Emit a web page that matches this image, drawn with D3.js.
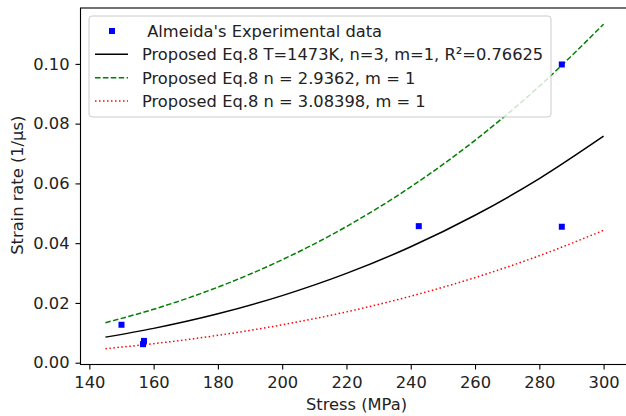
<!DOCTYPE html>
<html>
<head>
<meta charset="utf-8">
<script src="https://cdn.jsdelivr.net/npm/d3@7"></script>
<style>
  body { margin: 0; background: #fff; }
  svg { display: block; font-family: "DejaVu Sans", sans-serif; }
</style>
</head>
<body>
<div id="chart"></div>
<script>
// experimental points
const expStress = [150, 156.7, 157, 242.5, 287, 287];
const expRate = [0.0127, 0.0062, 0.0073, 0.0457, 0.0998, 0.0455];

// fitted curves
const fitStress = [145, 160, 180, 200, 220, 240, 260, 280, 300];
const fitT1473 = [0.00856, 0.01149, 0.01636, 0.02245, 0.02988, 0.0388, 0.04934, 0.0616, 0.0758];
const fitN29362 = [0.0134, 0.01789, 0.02528, 0.03445, 0.04557, 0.05884, 0.07443, 0.09251, 0.1133];
const fitN308398 = [0.0047, 0.00637, 0.00916, 0.01268, 0.01701, 0.02226, 0.02848, 0.0358, 0.0443];

const xTicks = [140, 160, 180, 200, 220, 240, 260, 280, 300];
const yTicks = [0, 0.02, 0.04, 0.06, 0.08, 0.10];

const legendLabels = [
  " Almeida's Experimental data",
  "Proposed Eq.8 T=1473K, n=3, m=1, R\u00b2=0.76625",
  "Proposed Eq.8 n = 2.9362, m = 1",
  "Proposed Eq.8 n = 3.08398, m = 1"
];

const width = 626, height = 416;
const fs = "16.3px";

const svg = d3.select("#chart").append("svg")
  .attr("width", width)
  .attr("height", height);

const x = d3.scaleLinear().domain([137.25, 307.75]).range([80.5, 628.5]);
const y = d3.scaleLinear().domain([-0.0006, 0.1187]).range([364.5, 8]);

// axes
const xAxis = svg.append("g")
  .attr("transform", `translate(0,${y.range()[0]})`)
  .call(d3.axisBottom(x).tickValues(xTicks).tickSize(5).tickPadding(6.5).tickFormat(d3.format("d")));
const yAxis = svg.append("g")
  .attr("transform", `translate(${x.range()[0]},0)`)
  .call(d3.axisLeft(y).tickValues(yTicks).tickSize(5).tickPadding(6).tickFormat(d3.format(".2f")));
[xAxis, yAxis].forEach(g => {
  g.select(".domain").remove();
  g.selectAll("line").attr("stroke", "#000").attr("stroke-width", 1.1);
  g.selectAll("text").attr("font-size", fs).attr("font-family", "DejaVu Sans").attr("fill", "#222");
});

// curves
const line = d3.line().x(d => x(d[0])).y(d => y(d[1])).curve(d3.curveMonotoneX);
const series = [
  { vals: fitN29362, color: "#008000", dash: "5.5,2.4" },
  { vals: fitN308398, color: "#ff0000", dash: "1.5,2.5" },
  { vals: fitT1473, color: "#000000", dash: null }
];
series.forEach(s => {
  svg.append("path")
    .datum(fitStress.map((v, i) => [v, s.vals[i]]))
    .attr("d", line)
    .attr("fill", "none")
    .attr("stroke", s.color)
    .attr("stroke-width", 1.5)
    .attr("stroke-dasharray", s.dash);
});

// experimental squares
const ms = 6;
svg.append("g").selectAll("rect")
  .data(expStress.map((v, i) => [v, expRate[i]]))
  .join("rect")
    .attr("x", d => x(d[0]) - ms / 2)
    .attr("y", d => y(d[1]) - ms / 2)
    .attr("width", ms)
    .attr("height", ms)
    .attr("fill", "#0000ff");

// frame (right edge falls outside the image)
svg.append("rect")
  .attr("x", x.range()[0]).attr("y", y.range()[1])
  .attr("width", x.range()[1] - x.range()[0])
  .attr("height", y.range()[0] - y.range()[1])
  .attr("fill", "none").attr("stroke", "#000").attr("stroke-width", 1.1);

// axis labels
svg.append("text")
  .attr("x", (x.range()[0] + x.range()[1]) / 2 + 2)
  .attr("y", 409.5)
  .attr("text-anchor", "middle")
  .attr("font-size", fs).attr("fill", "#222")
  .text("Stress (MPa)");
svg.append("text")
  .attr("transform", `translate(23,${(y.range()[0] + y.range()[1]) / 2 - 1}) rotate(-90)`)
  .attr("text-anchor", "middle")
  .attr("font-size", fs).attr("fill", "#222")
  .text("Strain rate (1/\u03bcs)");

// legend
const lg = svg.append("g");
lg.append("rect")
  .attr("x", 89).attr("y", 16).attr("width", 462).attr("height", 101).attr("rx", 3)
  .attr("fill", "#fff").attr("fill-opacity", 0.8)
  .attr("stroke", "#ccc").attr("stroke-width", 1);
const rowY = [31, 54.3, 77.7, 101];
lg.append("rect")
  .attr("x", 112 - ms / 2).attr("y", rowY[0] - ms / 2)
  .attr("width", ms).attr("height", ms).attr("fill", "#0000ff");
[series[2], series[0], series[1]].forEach((s, i) => {
  lg.append("line")
    .attr("x1", 95).attr("x2", 128)
    .attr("y1", rowY[i + 1]).attr("y2", rowY[i + 1])
    .attr("stroke", s.color).attr("stroke-width", 1.5)
    .attr("stroke-dasharray", s.dash);
});
lg.selectAll("text.lab")
  .data(legendLabels)
  .join("text")
    .attr("class", "lab")
    .attr("x", 142)
    .attr("y", (d, i) => rowY[i])
    .attr("dy", "0.36em")
    .attr("font-size", fs).attr("fill", "#222")
    .style("white-space", "pre")
    .text(d => d);
</script>
</body>
</html>
